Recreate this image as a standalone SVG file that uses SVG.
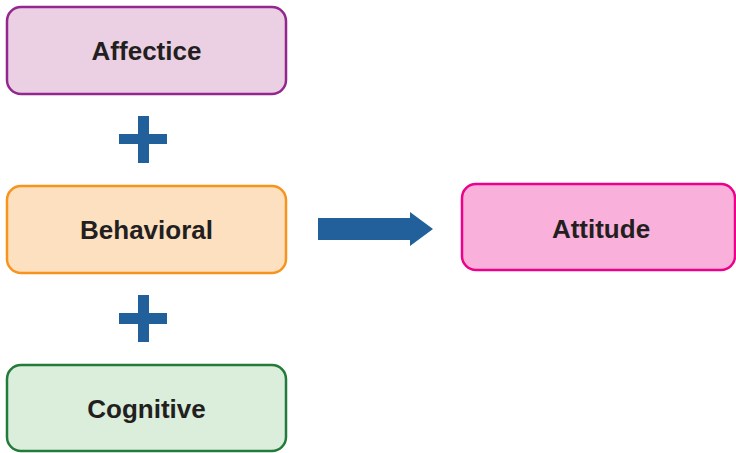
<svg xmlns="http://www.w3.org/2000/svg" width="736" height="453" viewBox="0 0 736 453">
<style>
.box{stroke-width:2.5}
.lbl{font-family:"Liberation Sans",Arial,sans-serif;font-weight:bold;font-size:26px;fill:#231f20;text-anchor:middle}
.blue{fill:#21609b}
</style>
<rect width="736" height="453" fill="#ffffff"/>
<g id="affectice">
<rect class="box" x="7" y="7" width="279" height="87" rx="14" fill="#ebd0e4" stroke="#92278f"/>
<text class="lbl" x="146.5" y="60">Affectice</text>
</g>
<g id="behavioral">
<rect class="box" x="7" y="186" width="279" height="87" rx="14" fill="#fde0bf" stroke="#f7941d"/>
<text class="lbl" x="146.5" y="239">Behavioral</text>
</g>
<g id="cognitive">
<rect class="box" x="7" y="365" width="279" height="86" rx="14" fill="#daeedb" stroke="#237a3a"/>
<text class="lbl" x="146.5" y="418">Cognitive</text>
</g>
<g id="attitude">
<rect class="box" x="462" y="184" width="273" height="86" rx="14" fill="#f9b1dc" stroke="#ec008c"/>
<text class="lbl" x="601" y="238">Attitude</text>
</g>
<g id="connectors">
<path class="blue" d="M119 134H138V116H149V134H167V144H149V163H138V144H119Z"/>
<path class="blue" d="M119 313H138V295H149V313H167V324H149V342H138V324H119Z"/>
<path class="blue" d="M318 218H410V212L433 229L410 246V240H318Z"/>
</g>
</svg>
